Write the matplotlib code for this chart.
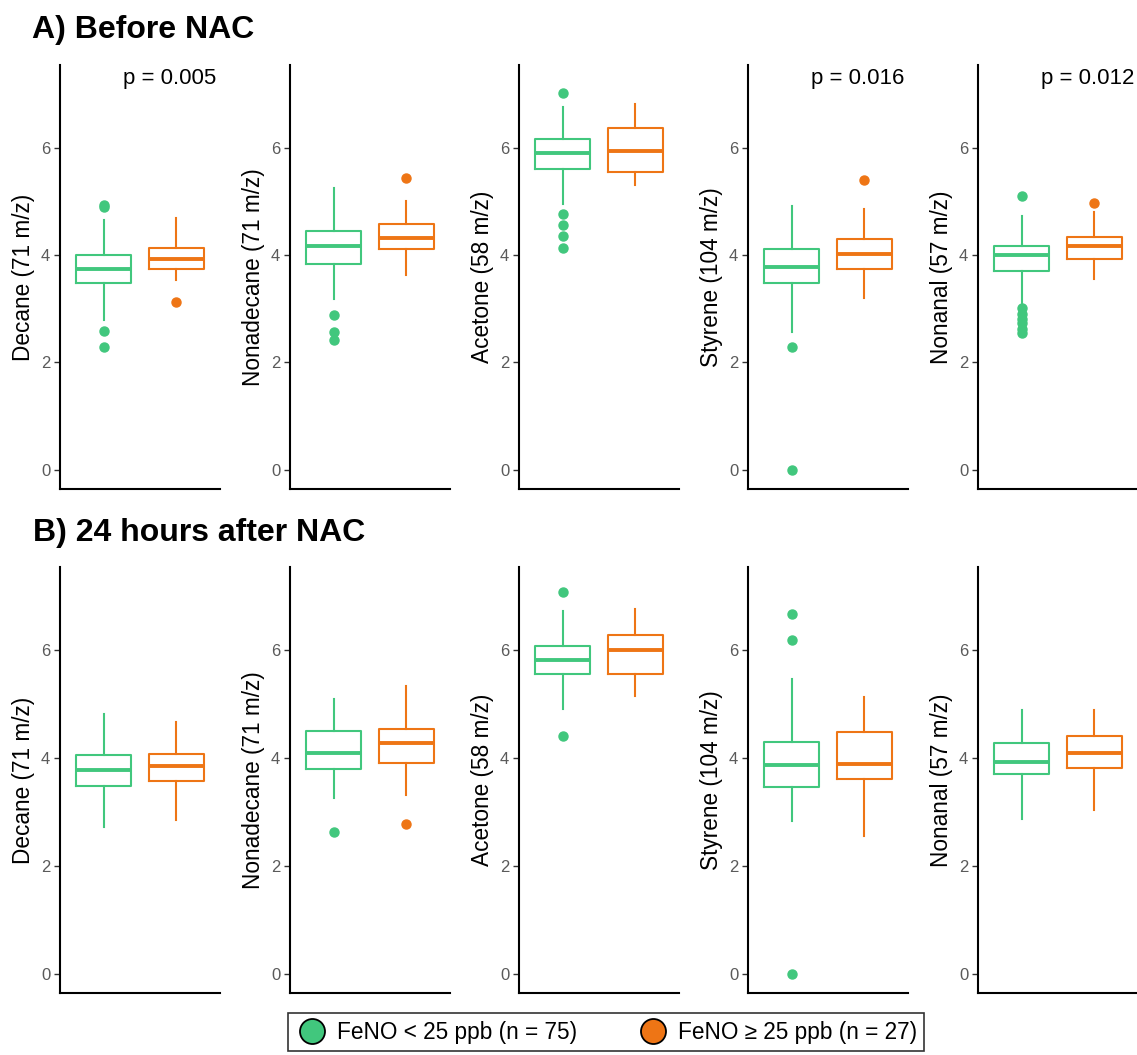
import matplotlib
matplotlib.use("Agg")
import matplotlib.pyplot as plt
from matplotlib.lines import Line2D

plt.rcParams["font.family"] = ["Liberation Sans", "DejaVu Sans"]

# Panel labels
compounds = ["Decane", "Nonadecane", "Acetone", "Styrene", "Nonanal"]
y_labels = ["Decane (71 m/z)", "Nonadecane (71 m/z)", "Acetone (58 m/z)",
            "Styrene (104 m/z)", "Nonanal (57 m/z)"]
p_before = ["p = 0.005", "", "", "p = 0.016", "p = 0.012"]
p_after = ["", "", "", "", ""]
group_labels = ["FeNO < 25 ppb (n = 75)", "FeNO \u2265 25 ppb (n = 27)"]
row_titles = ["A) Before NAC", "B) 24 hours after NAC"]

# Box stats: (whisker low, q1, median, q3, whisker high)
before_low = [(2.80, 3.48, 3.75, 4.01, 4.66),
              (3.19, 3.84, 4.18, 4.45, 5.26),
              (4.96, 5.61, 5.90, 6.17, 6.77),
              (2.56, 3.49, 3.79, 4.12, 4.92),
              (3.04, 3.71, 4.00, 4.17, 4.74)]
before_low_fliers = [[4.94, 4.90, 2.59, 2.29],
                     [2.88, 2.57, 2.42],
                     [7.02, 4.77, 4.57, 4.36, 4.14],
                     [2.29, 0.0],
                     [5.11, 3.01, 2.91, 2.82, 2.73, 2.63, 2.55]]
before_high = [(3.53, 3.75, 3.94, 4.13, 4.69),
               (3.64, 4.11, 4.33, 4.59, 5.02),
               (5.32, 5.55, 5.94, 6.37, 6.83),
               (3.21, 3.75, 4.03, 4.31, 4.87),
               (3.55, 3.94, 4.17, 4.35, 4.80)]
before_high_fliers = [[3.12], [5.44], [], [5.41], [4.98]]

after_low = [(2.73, 3.48, 3.78, 4.06, 4.82),
             (3.27, 3.80, 4.09, 4.51, 5.10),
             (4.91, 5.56, 5.82, 6.09, 6.73),
             (2.83, 3.47, 3.87, 4.30, 5.47),
             (2.88, 3.71, 3.92, 4.28, 4.89)]
after_low_fliers = [[], [2.63], [7.08, 4.42], [6.68, 6.19, 0.0], []]
after_high = [(2.86, 3.58, 3.86, 4.08, 4.68),
              (3.32, 3.91, 4.29, 4.54, 5.34),
              (5.16, 5.57, 6.00, 6.29, 6.77),
              (2.56, 3.61, 3.89, 4.48, 5.13),
              (3.04, 3.81, 4.10, 4.41, 4.89)]
after_high_fliers = [[], [2.78], [], [], []]

GREEN = "#41C77D"
ORANGE = "#EE7515"
W, H = 1137, 1055


def make_stats(five, fliers):
  """Builds a bxp stats dict from five numbers and outliers."""
  lo, q1, med, q3, hi = five
  return {"whislo": lo, "q1": q1, "med": med, "q3": q3, "whishi": hi,
          "fliers": fliers}


def draw_panel(ax, low, low_fl, high, high_fl, ylabel, ptext):
  """Draws one two-group boxplot panel."""
  for pos, five, fl, col in [(1, low, low_fl, GREEN), (2, high, high_fl, ORANGE)]:
    ax.bxp([make_stats(five, fl)], positions=[pos], widths=0.76,
           showcaps=False, patch_artist=False,
           boxprops=dict(color=col, linewidth=1.5),
           whiskerprops=dict(color=col, linewidth=1.5),
           medianprops=dict(color=col, linewidth=2.8, solid_capstyle="butt"),
           flierprops=dict(marker="o", markerfacecolor=col,
                           markeredgecolor=col, markersize=6.5))
  ax.set_xlim(0.4, 2.6)
  ax.set_ylim(-0.36, 7.55)
  ax.set_yticks([0, 2, 4, 6])
  ax.set_xticks([])
  for side in ["top", "right"]:
    ax.spines[side].set_visible(False)
  for side in ["left", "bottom"]:
    ax.spines[side].set_linewidth(1.5)
    ax.spines[side].set_color("black")
  ax.tick_params(axis="y", labelcolor="#5A5A5A", labelsize=12, length=4,
                 width=1, pad=3, color="#333333")
  ax.set_ylabel(ylabel, fontsize=16.3, color="black", labelpad=4)
  if ptext:
    ax.text(2.55, 7.3, ptext, ha="right", va="center", fontsize=16)


def main():
  fig = plt.figure(figsize=(W / 100, H / 100), dpi=100)
  lefts = [60, 290, 519, 748, 978]
  rows = [
    (65, 489, before_low, before_low_fliers, before_high, before_high_fliers, p_before),
    (567, 993, after_low, after_low_fliers, after_high, after_high_fliers, p_after),
  ]
  for top, bottom, low, low_fl, high, high_fl, ptexts in rows:
    for i, left in enumerate(lefts):
      ax = fig.add_axes([left / W, 1 - bottom / H, 160 / W, (bottom - top) / H])
      draw_panel(ax, low[i], low_fl[i], high[i], high_fl[i], y_labels[i], ptexts[i])

  fig.text(32 / W, 1 - 38 / H, row_titles[0], fontsize=23, fontweight="bold",
           va="baseline", ha="left")
  fig.text(33 / W, 1 - 541 / H, row_titles[1], fontsize=23, fontweight="bold",
           va="baseline", ha="left")

  handles = [Line2D([], [], marker="o", linestyle="none", markersize=18,
                    markerfacecolor=c, markeredgecolor="black",
                    markeredgewidth=1.3) for c in (GREEN, ORANGE)]
  leg = fig.legend(handles, group_labels, loc="center",
                   bbox_to_anchor=(606 / W, 1 - 1032 / H), ncol=2,
                   fontsize=16.3, frameon=True, fancybox=False,
                   handletextpad=0.35, columnspacing=2.6, borderpad=0.32,
                   handlelength=1.5, borderaxespad=0)
  leg.get_frame().set_edgecolor("black")
  leg.get_frame().set_linewidth(1.2)

  fig.savefig("out.png", dpi=100)


if __name__ == "__main__":
  main()
